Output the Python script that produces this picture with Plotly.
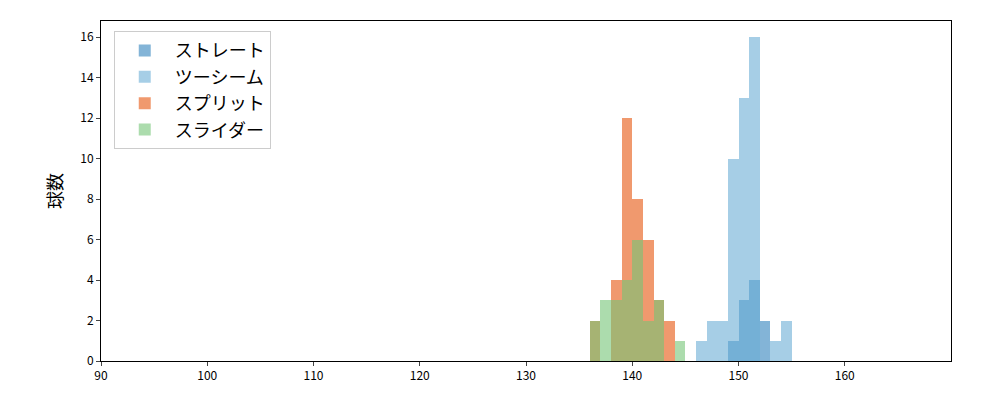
import plotly.graph_objects as go

bins_straight = [149, 150, 151, 152]
cnt_straight = [1, 3, 4, 2]
bins_two = [146, 147, 148, 149, 150, 151, 153, 154]
cnt_two = [1, 2, 2, 10, 13, 16, 1, 2]
bins_split = [136, 138, 139, 140, 141, 142, 143]
cnt_split = [2, 4, 12, 8, 6, 3, 2]
bins_slider = [136, 137, 138, 139, 140, 141, 142, 144]
cnt_slider = [2, 3, 3, 4, 6, 2, 3, 1]
x_ticks = [90, 100, 110, 120, 130, 140, 150, 160]

series = [
    ("ストレート", bins_straight, cnt_straight, "rgba(49,130,189,0.6)"),
    ("ツーシーム", bins_two, cnt_two, "rgba(107,174,214,0.6)"),
    ("スプリット", bins_split, cnt_split, "rgba(230,85,13,0.6)"),
    ("スライダー", bins_slider, cnt_slider, "rgba(116,196,118,0.6)"),
]

fig = go.Figure()
for name, b, c, col in series:
    fig.add_trace(go.Bar(x=b, y=c, name=name, width=1, offset=0,
                         marker=dict(color=col, line=dict(width=0))))

ax = dict(showline=True, linecolor="black", linewidth=1, mirror=True,
          ticks="outside", ticklen=4, showgrid=False, zeroline=False,
          tickfont=dict(size=12, color="black"))
fig.update_layout(
    width=1000, height=400, barmode="overlay", bargap=0,
    plot_bgcolor="white", paper_bgcolor="white",
    margin=dict(l=93, r=57, t=13, b=47),
    font=dict(family="Noto Sans CJK JP", color="black"),
    xaxis=dict(range=[90, 170], tickvals=x_ticks, **ax),
    yaxis=dict(range=[0, 16.8], dtick=2,
               title=dict(text="球数", font=dict(size=18), standoff=12), **ax),
    legend=dict(x=0.015, y=0.97, xanchor="left", yanchor="top",
                bordercolor="#cccccc", borderwidth=1, font=dict(size=18),
                itemwidth=50, bgcolor="rgba(255,255,255,0.8)"),
)
fig.write_html("out.html")
